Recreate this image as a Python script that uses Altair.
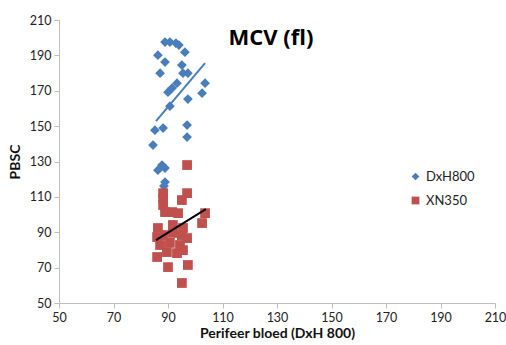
import altair as alt
import pandas as pd

# DxH800 series (x = Perifeer bloed, y = PBSC)
dxh_x = [88.9, 90.7, 92.9, 94.0, 86.3, 96.2, 88.9, 95.1, 87.1, 95.5, 97.3, 93.3, 91.5,
         103.6, 90.0, 102.5, 97.3, 90.7, 85.2, 88.2, 97.0, 84.5, 97.0, 87.8, 86.3, 88.9,
         88.9, 88.5]
dxh_y = [197.5, 197.5, 196.9, 195.8, 190.1, 191.8, 186.2, 184.5, 179.9, 179.9, 179.9,
         174.3, 171.5, 174.3, 169.2, 168.6, 165.3, 161.3, 147.7, 148.9, 150.6, 139.3,
         143.8, 128.0, 125.1, 126.3, 118.4, 116.1]

# XN350 series
xn_x = [97.0, 88.2, 88.2, 97.0, 95.1, 88.2, 88.9, 91.5, 93.7, 103.6, 102.5, 86.3, 91.8,
        95.5, 86.0, 88.2, 91.8, 95.1, 97.0, 87.1, 90.7, 94.4, 86.0, 89.6, 93.3, 95.5,
        90.0, 97.3, 95.1]
xn_y = [128.0, 112.1, 109.3, 112.1, 108.2, 105.4, 101.4, 101.4, 100.8, 100.8, 95.2, 92.4,
        94.1, 92.4, 87.3, 88.4, 89.6, 88.4, 86.7, 82.8, 84.0, 82.8, 76.0, 78.8, 78.2,
        79.9, 70.3, 71.5, 61.3]

# Linear trendlines (endpoints)
trend_series = ["DxH800", "DxH800", "XN350", "XN350"]
trend_x = [85.6, 103.6, 85.6, 103.9]
trend_y = [152.8, 185.6, 85.6, 103.1]

x_ticks = [50, 70, 90, 110, 130, 150, 170, 190, 210]
y_ticks = [50, 70, 90, 110, 130, 150, 170, 190, 210]

pts = pd.DataFrame({
    "x": dxh_x + xn_x,
    "y": dxh_y + xn_y,
    "series": ["DxH800"] * len(dxh_x) + ["XN350"] * len(xn_x),
})
trend = pd.DataFrame({"series": trend_series, "x": trend_x, "y": trend_y})

FONT = "Lato"

xscale = alt.Scale(domain=[50, 210], nice=False, zero=False)
yscale = alt.Scale(domain=[50, 210], nice=False, zero=False)

xaxis = alt.Axis(values=x_ticks, title="Perifeer bloed (DxH 800)", grid=False,
                 labelOverlap=False, labelFlush=False,
                 domainColor="#bfbfbf", tickColor="#bfbfbf", tickSize=5,
                 labelFont=FONT, labelFontSize=12.5, labelColor="#222222", labelPadding=3,
                 titleFont=FONT, titleFontSize=14, titleFontWeight="bold",
                 titleColor="#111111", titlePadding=3)
yaxis = alt.Axis(values=y_ticks, title="PBSC", grid=False,
                 labelOverlap=False, labelFlush=False,
                 domainColor="#bfbfbf", tickColor="#bfbfbf", tickSize=5,
                 labelFont=FONT, labelFontSize=12.5, labelColor="#222222", labelPadding=3,
                 titleFont=FONT, titleFontSize=14, titleFontWeight="bold",
                 titleColor="#111111", titlePadding=7)

X = alt.X("x:Q", scale=xscale, axis=xaxis)
Y = alt.Y("y:Q", scale=yscale, axis=yaxis)

legend_common = dict(title=None, orient="none", legendX=350, legendY=150,
                     labelFont=FONT, labelFontSize=13, labelColor="#222222",
                     symbolSize=60, rowPadding=9, symbolOpacity=1)

points = alt.Chart(pts).mark_point(filled=True, opacity=1, size=95).encode(
    x=X,
    y=Y,
    color=alt.Color("series:N",
                    scale=alt.Scale(domain=["DxH800", "XN350"], range=["#4a7ebb", "#c0504d"]),
                    legend=alt.Legend(**legend_common)),
    shape=alt.Shape("series:N",
                    scale=alt.Scale(domain=["DxH800", "XN350"], range=["diamond", "square"]),
                    legend=alt.Legend(**legend_common)),
)

line_blue = alt.Chart(trend).transform_filter(alt.datum.series == "DxH800").mark_line(
    color="#4a7ebb", strokeWidth=2).encode(x=X, y=Y)
line_black = alt.Chart(trend).transform_filter(alt.datum.series == "XN350").mark_line(
    color="#000000", strokeWidth=2).encode(x=X, y=Y)

title = alt.Chart(pd.DataFrame({"t": ["MCV (fl)"]})).mark_text(
    font="Open Sans", fontSize=22, fontWeight="bold", color="#000000", align="center"
).encode(x=alt.value(212), y=alt.value(18), text="t:N")

chart = alt.layer(points, line_blue, line_black, title).properties(
    width=436, height=283,
    padding={"left": 59, "top": 20, "right": 11, "bottom": 42},
    autosize=alt.AutoSizeParams(type="none"),
    background="white",
).configure_view(stroke=None)

chart.save("out.html", embed_options={"renderer": "svg", "actions": False})
